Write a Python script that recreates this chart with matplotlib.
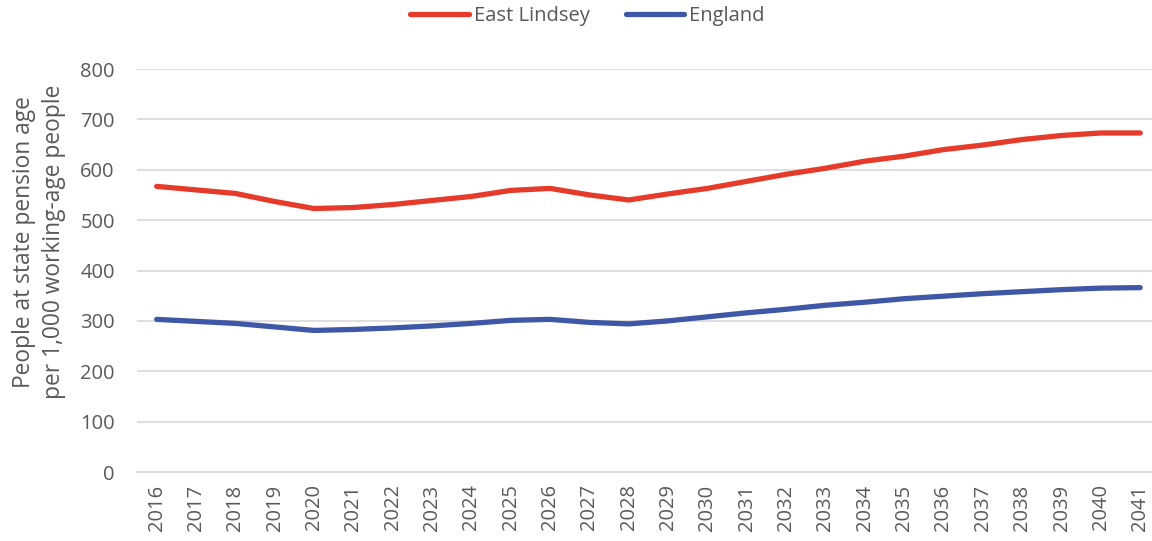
import matplotlib
matplotlib.use("Agg")
import matplotlib.pyplot as plt

years = list(range(2016, 2042))
east_lindsey = [567, 560, 553, 537, 523, 525, 531, 539, 547, 559, 563, 550, 540,
                552, 563, 577, 591, 603, 617, 627, 640, 649, 660, 668, 673, 673]
england = [303, 299, 295, 288, 281, 283, 286, 290, 295, 301, 303, 297, 294,
           300, 308, 316, 323, 331, 337, 344, 349, 354, 358, 362, 365, 366]
y_ticks = [0, 100, 200, 300, 400, 500, 600, 700, 800]

RED = "#E63A2B"
BLUE = "#3E57A6"
TEXT = "#595959"
GRID = "#D9D9D9"

plt.rcParams["font.family"] = ["Open Sans", "DejaVu Sans"]

fig = plt.figure(figsize=(11.52, 5.41), dpi=100)
ax = fig.add_axes([137 / 1152, 69 / 541, 1 - 137 / 1152, 403 / 541])

x = list(range(len(years)))
ax.plot(x, east_lindsey, color=RED, lw=3.8, solid_capstyle="round",
        solid_joinstyle="round", label="East Lindsey", zorder=3)
ax.plot(x, england, color=BLUE, lw=3.8, solid_capstyle="round",
        solid_joinstyle="round", label="England", zorder=3)

ax.set_ylim(0, 800)
ax.set_xlim(-0.5, 25.3)
ax.set_yticks(y_ticks)
ax.set_yticklabels([str(v) for v in y_ticks])
ax.set_xticks(x)
ax.set_xticklabels([str(y) for y in years], rotation=90)

ax.grid(axis="y", color=GRID, lw=1.2, zorder=0)
ax.set_axisbelow(True)
for side in ("top", "right", "left"):
    ax.spines[side].set_visible(False)
ax.spines["bottom"].set_color(GRID)
ax.spines["bottom"].set_linewidth(1.2)

ax.tick_params(axis="both", length=0, colors=TEXT, labelsize=14.5)
ax.tick_params(axis="y", pad=16)
ax.tick_params(axis="x", pad=9)

# Two-line axis title, placed slightly above the axes' vertical centre
fig.text(39 / 1152, 1 - 242 / 541,
         "People at state pension age\nper 1,000 working-age people",
         rotation=90, ha="center", va="center", color=TEXT,
         fontsize=16.4, linespacing=1.33, multialignment="center")

fig.legend(loc="center", bbox_to_anchor=(0.51, 1 - 16 / 541), ncol=2,
           frameon=False, fontsize=14.5, handlelength=2.9, handletextpad=0.25,
           columnspacing=1.8, labelcolor=TEXT)

fig.savefig("out.png", dpi=100)
